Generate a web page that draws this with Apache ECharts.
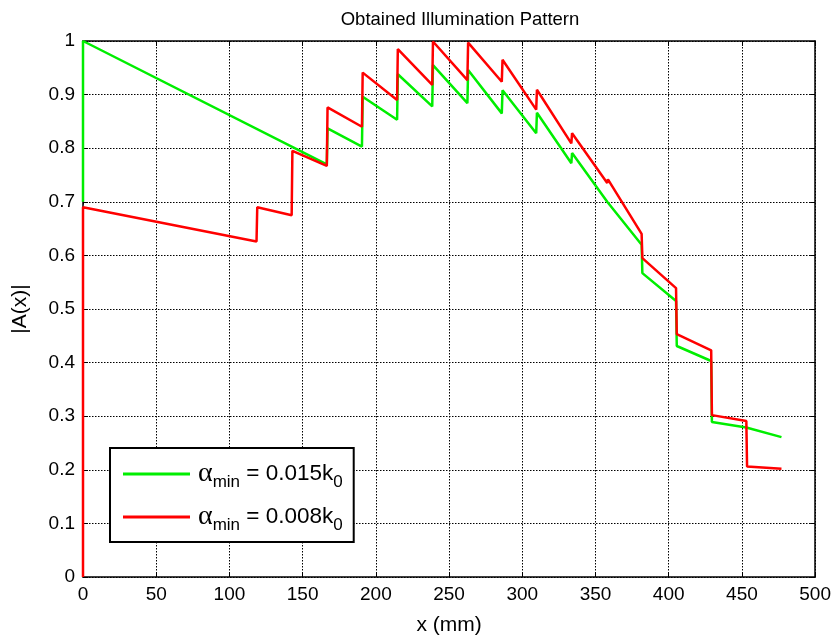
<!DOCTYPE html>
<html>
<head>
<meta charset="utf-8">
<script src="https://cdn.jsdelivr.net/npm/echarts@6/dist/echarts.min.js"></script>
<style>html,body{margin:0;padding:0;background:#fff;}#c{width:834px;height:641px;}</style>
</head>
<body>
<div id="c"></div>
<script>
// ---- data ----
const xTicks = [0, 50, 100, 150, 200, 250, 300, 350, 400, 450, 500];
const yTicks = [0, 0.1, 0.2, 0.3, 0.4, 0.5, 0.6, 0.7, 0.8, 0.9, 1];
const seriesNames = ['α_min = 0.015k_0', 'α_min = 0.008k_0'];
const legendCoef = ['0.015', '0.008'];

const greenX = [0, 0, 166.5, 167, 190.5, 191, 214.5, 215, 238.5, 239, 262.5, 263, 286, 286.5, 309.5, 310, 333.5, 334, 358, 381.5, 382, 405, 405.5, 429, 429.5, 453, 477];
const greenY = [0.70, 1.0, 0.770, 0.837, 0.803, 0.896, 0.853, 0.938, 0.878, 0.955, 0.884, 0.946, 0.865, 0.908, 0.828, 0.866, 0.772, 0.791, 0.700, 0.620, 0.567, 0.515, 0.431, 0.403, 0.289, 0.279, 0.261];

const redX = [0, 0, 118.5, 119, 142.5, 143, 166.5, 167, 190.5, 191, 214.5, 215, 238.5, 239, 262.5, 263, 286, 286.5, 309.5, 310, 333.5, 334, 358, 358.5, 381.5, 382, 405, 405.5, 429, 429.5, 453, 453.5, 477];
const redY = [0, 0.690, 0.626, 0.690, 0.675, 0.795, 0.767, 0.876, 0.840, 0.941, 0.890, 0.985, 0.918, 0.999, 0.927, 0.997, 0.924, 0.965, 0.872, 0.909, 0.809, 0.828, 0.735, 0.742, 0.640, 0.595, 0.539, 0.453, 0.423, 0.302, 0.291, 0.206, 0.202];

// ---- chart ----
const zip = (xs, ys) => xs.map((x, i) => [x, ys[i]]);
const FONT = 'Liberation Sans';
const TICKFONT = '"Liberation Sans Narrow", "Liberation Sans", sans-serif';
const chart = echarts.init(document.getElementById('c'), null, {renderer: 'canvas'});

const baseAxis = {
  type: 'value',
  axisLine: {show: true, onZero: false, lineStyle: {color: '#000', width: 1.5}},
  axisTick: {show: true, inside: true, length: 5, lineStyle: {color: '#000', width: 1}},
  splitLine: {show: false},
  axisLabel: {show: false},
};

const mainX = Object.assign({}, baseAxis, {
  position: 'bottom', min: xTicks[0], max: xTicks[xTicks.length - 1], interval: xTicks[1] - xTicks[0],
  axisLabel: {show: true, color: '#000', fontFamily: TICKFONT, fontSize: 19, margin: 8},
  splitLine: {show: true, lineStyle: {color: '#000', type: [1.5, 1.5], width: 1}},
  name: 'x (mm)', nameLocation: 'middle', nameGap: 38,
  nameTextStyle: {color: '#000', fontFamily: TICKFONT, fontSize: 21},
});
const topX = Object.assign({}, baseAxis, {position: 'top', min: xTicks[0], max: xTicks[xTicks.length - 1], interval: xTicks[1] - xTicks[0]});
const mainY = Object.assign({}, baseAxis, {
  position: 'left', min: yTicks[0], max: yTicks[yTicks.length - 1], interval: 0.1,
  axisLabel: {show: true, color: '#000', fontFamily: TICKFONT, fontSize: 19, margin: 8,
    formatter: v => String(Math.round(v * 10) / 10)},
  splitLine: {show: true, lineStyle: {color: '#000', type: [1.5, 1.5], width: 1}},
  name: '|A(x)|', nameLocation: 'middle', nameGap: 52,
  nameTextStyle: {color: '#000', fontFamily: TICKFONT, fontSize: 21},
});
const rightY = Object.assign({}, baseAxis, {position: 'right', min: yTicks[0], max: yTicks[yTicks.length - 1], interval: 0.1});

const rich = {
  a: {fontFamily: 'Liberation Serif', fontSize: 28, color: '#000'},
  t: {fontFamily: FONT, fontSize: 22.5, color: '#000'},
  s: {fontFamily: FONT, fontSize: 17, color: '#000', padding: [17, 0, 0, 0]},
};

chart.setOption({
  animation: false,
  backgroundColor: '#fff',
  title: {text: 'Obtained Illumination Pattern', left: 455, textAlign: 'center', top: 5,
    textStyle: {color: '#000', fontFamily: FONT, fontSize: 18.5, fontWeight: 'normal'}},
  grid: {left: 83, right: 16, top: 41, bottom: 63, containLabel: false},
  xAxis: [mainX, topX],
  yAxis: [mainY, rightY],
  legend: {
    orient: 'vertical', left: 110, top: 448,
    backgroundColor: '#fff', borderColor: '#000', borderWidth: 2, borderRadius: 0,
    padding: [12, 11, 8, 13], itemGap: 12,
    itemWidth: 67, itemHeight: 3, icon: 'rect',
    data: seriesNames,
    formatter: name => {
      const i = seriesNames.indexOf(name);
      return '{a|α}{s|min}{t| = ' + legendCoef[i] + 'k}{s|0}';
    },
    textStyle: {rich: rich, padding: [0, 0, 0, 3]},
  },
  series: [
    {name: seriesNames[0], type: 'line', xAxisIndex: 0, yAxisIndex: 0, data: zip(greenX, greenY),
     showSymbol: false, lineStyle: {color: '#00ee00', width: 2.5}, itemStyle: {color: '#00ee00'}},
    {name: seriesNames[1], type: 'line', xAxisIndex: 0, yAxisIndex: 0, data: zip(redX, redY),
     showSymbol: false, lineStyle: {color: '#ff0000', width: 2.5}, itemStyle: {color: '#ff0000'}},
  ],
});
</script>
</body>
</html>
